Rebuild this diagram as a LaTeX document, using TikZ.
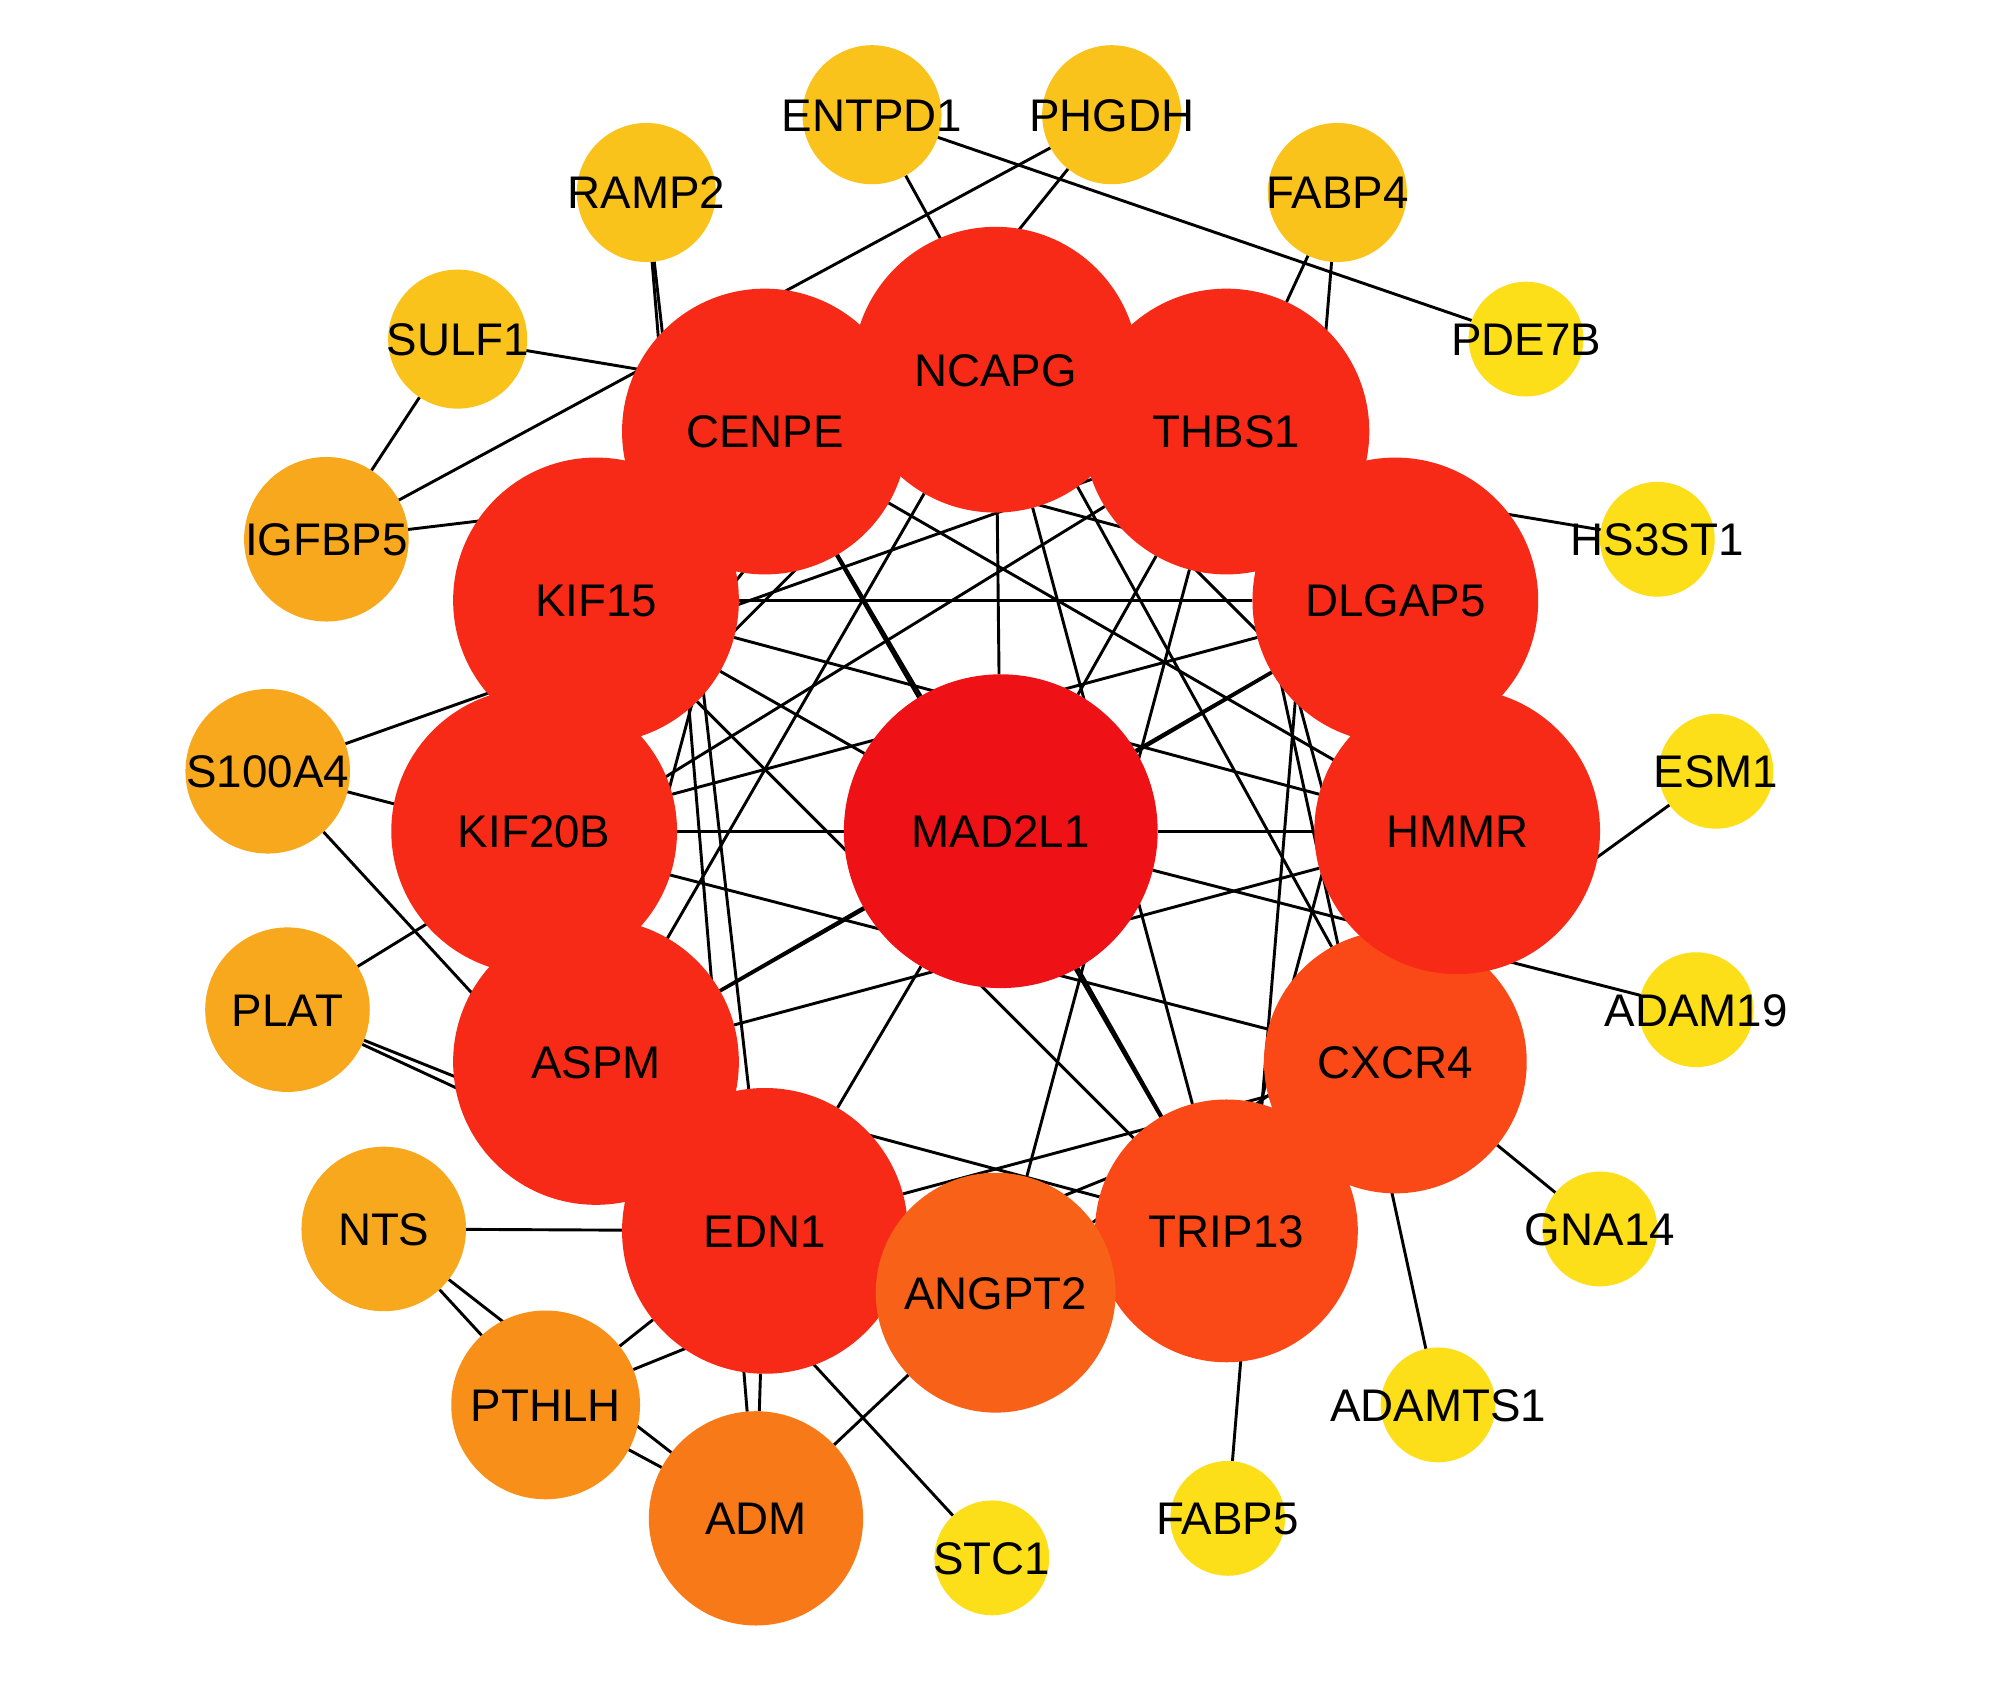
\documentclass[tikz,border=0pt]{standalone}
\usepackage{fontspec}
\setmainfont{Liberation Sans}
\definecolor{cHub}{RGB}{238,17,22}
\definecolor{cRing}{RGB}{246,42,22}
\definecolor{cOrR}{RGB}{250,72,22}
\definecolor{cAng}{RGB}{248,98,24}
\definecolor{cAdm}{RGB}{247,121,23}
\definecolor{cPth}{RGB}{247,143,24}
\definecolor{cDegC}{RGB}{248,168,28}
\definecolor{cDegB}{RGB}{250,195,27}
\definecolor{cDegA}{RGB}{252,222,25}
\pgfdeclarelayer{edges}
\pgfsetlayers{edges,main}
\begin{document}
\begin{tikzpicture}[x=0.01cm,y=-0.01cm,
  gene/.style={circle,draw=none,inner sep=0pt,outer sep=0pt},
  hub/.style={gene,fill=cHub,minimum size=2.46cm},
  ringnode/.style={gene,fill=cRing,minimum size=2.24cm},
  orred/.style={gene,fill=cOrR,minimum size=2.06cm},
  angnode/.style={gene,fill=cAng,minimum size=1.88cm},
  admnode/.style={gene,fill=cAdm,minimum size=1.68cm},
  pthnode/.style={gene,fill=cPth,minimum size=1.48cm},
  degc/.style={gene,fill=cDegC,minimum size=1.29cm},
  degb/.style={gene,fill=cDegB,minimum size=1.09cm},
  dega/.style={gene,fill=cDegA,minimum size=0.90cm},
  lbl/.style={font=\fontsize{10.2}{12}\selectfont,inner sep=0pt,text height=7.3pt,text depth=0pt,text=black},
  link/.style={draw=black,line width=0.65pt}]
\useasboundingbox (0,0) rectangle (1568,1337);
\begin{pgfonlayer}{edges}
\fill[white] (0,0) rectangle (1568,1337);
\end{pgfonlayer}
% outer ring
\node[dega] (STC1) at (778,1222) {};
\node[admnode] (ADM) at (593,1191) {};
\node[pthnode] (PTHLH) at (428,1102) {};
\node[degc] (NTS) at (301,964) {};
\node[degc] (PLAT) at (225.5,792) {};
\node[degc] (S100A4) at (210,605) {};
\node[degc] (IGFBP5) at (256,423) {};
\node[degb] (SULF1) at (359,266) {};
\node[degb] (RAMP2) at (507,151) {};
\node[degb] (ENTPD1) at (684,90) {};
\node[degb] (PHGDH) at (872,90) {};
\node[degb] (FABP4) at (1049,151) {};
\node[dega] (PDE7B) at (1197,266) {};
\node[dega] (HS3ST1) at (1300,423) {};
\node[dega] (ESM1) at (1346,605) {};
\node[dega] (ADAM19) at (1330.5,792) {};
\node[dega] (GNA14) at (1255,964) {};
\node[dega] (ADAMTS1) at (1128,1102) {};
\node[dega] (FABP5) at (963,1191) {};
% inner ring
\node[orred] (TRIP13) at (962,965.5) {};
\node[orred] (CXCR4) at (1094.5,833) {};
\node[ringnode] (NCAPG) at (781,290) {};
\node[ringnode] (CENPE) at (600,338.5) {};
\node[ringnode] (THBS1) at (962,338.5) {};
\node[ringnode] (KIF15) at (467.5,471) {};
\node[ringnode] (DLGAP5) at (1094.5,471) {};
\node[ringnode] (KIF20B) at (419,652) {};
\node[ringnode] (HMMR) at (1143,652) {};
\node[ringnode] (ASPM) at (467.5,833) {};
\node[ringnode] (EDN1) at (600,965.5) {};
\node[angnode] (ANGPT2) at (781,1014) {};
\node[hub] (MAD2L1) at (785,652) {};
% edges
\begin{pgfonlayer}{edges}
\draw[link] (SULF1) -- (IGFBP5);
\draw[link] (SULF1) -- (HS3ST1);
\draw[link] (IGFBP5) -- (PHGDH);
\draw[link] (IGFBP5) -- (THBS1);
\draw[link] (RAMP2) -- (ADM);
\draw[link] (RAMP2) -- (EDN1);
\draw[link] (ENTPD1) -- (PDE7B);
\draw[link] (ENTPD1) -- (CXCR4);
\draw[link] (PHGDH) -- (KIF20B);
\draw[link] (FABP4) -- (THBS1);
\draw[link] (FABP4) -- (FABP5);
\draw[link] (THBS1) -- (ADAMTS1);
\draw[link] (GNA14) -- (CXCR4);
\draw[link] (ADAM19) -- (MAD2L1);
\draw[link] (ESM1) -- (ANGPT2);
\draw[link] (S100A4) -- (THBS1);
\draw[link] (S100A4) -- (CXCR4);
\draw[link] (S100A4) -- (STC1);
\draw[link] (PLAT) -- (THBS1);
\draw[link] (PLAT) -- (EDN1);
\draw[link] (PLAT) -- (ANGPT2);
\draw[link] (NTS) -- (EDN1);
\draw[link] (NTS) -- (PTHLH);
\draw[link] (NTS) -- (ADM);
\draw[link] (PTHLH) -- (ADM);
\draw[link] (PTHLH) -- (EDN1);
\draw[link] (PTHLH) -- (CXCR4);
\draw[link] (ADM) -- (EDN1);
\draw[link] (ADM) -- (ANGPT2);
\draw[link] (KIF15) -- (DLGAP5);
\draw[link] (NCAPG) -- (MAD2L1);
\draw[link] (KIF20B) -- (MAD2L1);
\draw[link] (MAD2L1) -- (HMMR);
\draw[link] (CENPE) -- (MAD2L1);
\draw[link] (CENPE) -- (TRIP13);
\draw[link] (MAD2L1) -- (TRIP13);
\draw[link] (CENPE) -- (HMMR);
\draw[link] (NCAPG) -- (ASPM);
\draw[link] (KIF15) -- (HMMR);
\draw[link] (KIF15) -- (MAD2L1);
\draw[link] (KIF15) -- (TRIP13);
\draw[link] (DLGAP5) -- (KIF20B);
\draw[link] (ASPM) -- (MAD2L1);
\draw[link] (ASPM) -- (DLGAP5);
\draw[link] (MAD2L1) -- (DLGAP5);
\draw[link] (ASPM) -- (HMMR);
\draw[link] (MAD2L1) -- (EDN1);
\draw[link] (ASPM) -- (TRIP13);
\draw[link] (EDN1) -- (CXCR4);
\draw[link] (NCAPG) -- (TRIP13);
\draw[link] (THBS1) -- (ANGPT2);
\draw[link] (DLGAP5) -- (TRIP13);
\draw[link] (THBS1) -- (MAD2L1);
\draw[link] (NCAPG) -- (HMMR);
\draw[link] (CENPE) -- (DLGAP5);
\draw[link] (THBS1) -- (CXCR4);
\draw[link] (KIF20B) -- (NCAPG);
\draw[link] (CENPE) -- (ASPM);
\end{pgfonlayer}
% labels
\foreach \g in {STC1,ADM,PTHLH,NTS,PLAT,S100A4,IGFBP5,SULF1,RAMP2,ENTPD1,PHGDH,FABP4,PDE7B,HS3ST1,ESM1,ADAM19,GNA14,ADAMTS1,FABP5,TRIP13,CXCR4,NCAPG,CENPE,THBS1,KIF15,DLGAP5,KIF20B,HMMR,ASPM,EDN1,ANGPT2,MAD2L1}
  \node[lbl] (t\g) at (\g.center) {\g};
\end{tikzpicture}
\end{document}
